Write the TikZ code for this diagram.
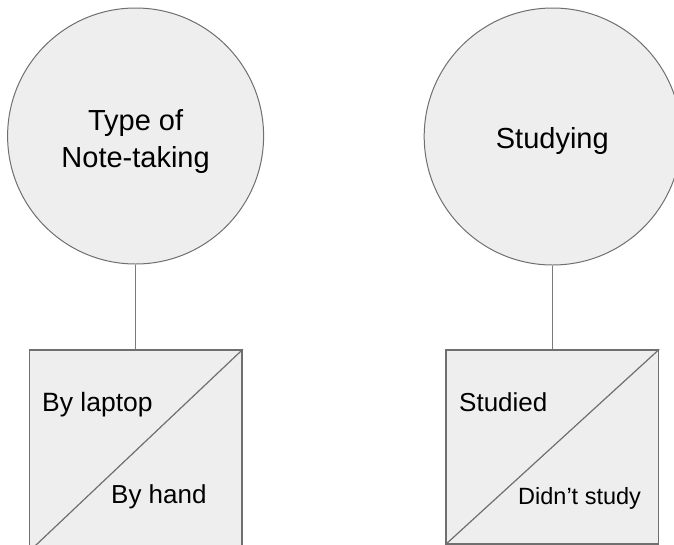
\documentclass[tikz,border=0pt]{standalone}
\usepackage{fontspec}
\setmainfont{Liberation Sans}
\definecolor{shapefill}{HTML}{EEEEEE}
\definecolor{edgegray}{HTML}{6F6F6F}
\definecolor{linkgray}{HTML}{7A7A7A}
\tikzset{
  factor/.style={circle, draw=edgegray, line width=1pt, fill=shapefill,
    minimum size=256pt, inner sep=0pt},
  levelbox/.style={rectangle, draw=edgegray, line width=1.4pt, fill=shapefill,
    minimum width=212.5pt, inner sep=0pt},
  split/.style={draw=edgegray, line width=1.2pt},
  link/.style={draw=linkgray, line width=1pt},
  txt/.style={inner sep=0pt, text=black},
}
\begin{document}
\begin{tikzpicture}[x=1pt, y=1pt]
  \useasboundingbox (0,0) rectangle (674,-544);
  \clip (0,0) rectangle (674,-544);

  % factor circles
  \node[factor] (noteC) at (135.6,-136) {};
  \node[factor, minimum size=257pt] (studyC) at (552.7,-136.5) {};

  % level boxes, each split by a diagonal
  \node[levelbox, minimum height=201pt] (noteB) at (135.9,-450.5) {};
  \node[levelbox, minimum height=194pt] (studyB) at (552.3,-447) {};
  \draw[split] (noteB.north east) -- (noteB.south west);
  \draw[split] (studyB.north east) -- (studyB.south west);

  % connectors from factor to levels
  \draw[link] (noteC.south) -- (noteC.south |- noteB.north);
  \draw[link] (studyC.south) -- (studyC.south |- studyB.north);

  % factor names
  \node[txt, anchor=base, font=\fontsize{29}{37}\selectfont] (noteT1) at (135.6,-130) {Type of};
  \node[txt, anchor=base, font=\fontsize{29}{37}\selectfont] (noteT2) at (135.6,-167) {Note-taking};
  \node[txt, anchor=base, font=\fontsize{29}{37}\selectfont] (studyT) at (552.3,-148) {Studying};

  % level labels
  \node[txt, anchor=base west, font=\fontsize{26.5}{30}\selectfont] (lapT) at (42,-411) {By laptop};
  \node[txt, anchor=base west, font=\fontsize{26}{30}\selectfont] (handT) at (111,-503) {By hand};
  \node[txt, anchor=base west, font=\fontsize{26}{30}\selectfont] (studT) at (459,-411) {Studied};
  \node[txt, anchor=base west, font=\fontsize{23.5}{28}\selectfont] (nostT) at (518,-504) {Didn’t study};
\end{tikzpicture}
\end{document}
